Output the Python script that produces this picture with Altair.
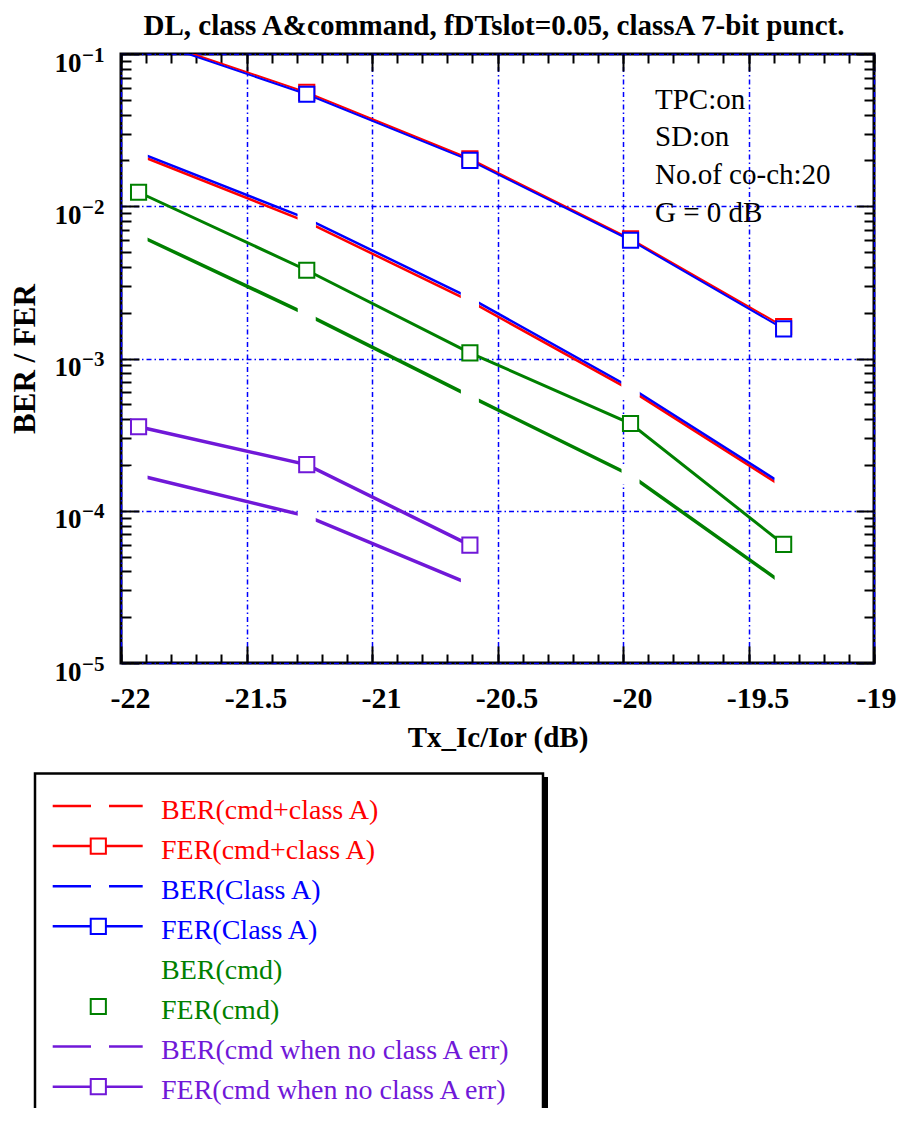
import altair as alt
import pandas as pd

FONT = "Liberation Serif"
W, H = 753, 609

# ---------------- data ----------------
title_text = ["DL, class A&command, fDTslot=0.05, classA 7-bit punct."]
notes = ["TPC:on", "SD:on", "No.of co-ch:20", "G = 0 dB"]

x_db = [-21.93, -21.26, -20.61, -19.97, -19.36]
x_db_noA = [-21.93, -21.26, -20.61]

ber_cmd_classA = [0.0217, 0.0079, 0.00238, 0.00062, 0.000142]
fer_cmd_classA = [0.132, 0.0560, 0.0205, 0.0061, 0.00162]
ber_classA = [0.0226, 0.0083, 0.00250, 0.000645, 0.000148]
fer_classA = [0.129, 0.0544, 0.0200, 0.00598, 0.001565]
ber_cmd = [0.00645, 0.00195, 0.000566, 0.000171, 0.000033]
fer_cmd = [0.01236, 0.0038, 0.00109, 0.000374, 0.0000601]
ber_cmd_noA = [0.000171, 0.0000922, 0.000033]
fer_cmd_noA = [0.000356, 0.000201, 0.0000594]

series_names = [
    "BER(cmd+class A)", "FER(cmd+class A)",
    "BER(Class A)", "FER(Class A)",
    "BER(cmd)", "FER(cmd)",
    "BER(cmd when no class A err)", "FER(cmd when no class A err)",
]
series_colors = ["#ff0000", "#ff0000", "#0000ff", "#0000ff",
                 "#008000", "#008000", "#7018d8", "#7018d8"]
series_widths = [2.5, 2, 2.5, 2, 3.5, 3, 3.5, 3.5]
legend_has_line = [True, True, True, True, False, False, True, True]

x_major = [-22, -21.5, -21, -20.5, -20, -19.5, -19]
x_minor = [round(-22 + 0.1 * i, 1) for i in range(31)]
y_major = [1e-5, 1e-4, 1e-3, 1e-2, 1e-1]
y_minor = [k * 10.0 ** e for e in range(-5, -1) for k in range(2, 10)]

series_x = [x_db, x_db, x_db, x_db, x_db, x_db, x_db_noA, x_db_noA]
series_y = [ber_cmd_classA, fer_cmd_classA, ber_classA, fer_classA,
            ber_cmd, fer_cmd, ber_cmd_noA, fer_cmd_noA]

rows = []
for name, xs_, ys_ in zip(series_names, series_x, series_y):
    for i, (xv, yv) in enumerate(zip(xs_, ys_)):
        rows.append({"series": name, "kind": name[:3], "x": xv, "value": yv, "idx": i})
df = pd.DataFrame(rows)

leg = pd.DataFrame({
    "series": series_names,
    "row": list(range(len(series_names))),
    "kind": [n[:3] for n in series_names],
    "has_line": legend_has_line,
})

# ---------------- scales / axes ----------------
xs = alt.Scale(domain=[-22, -19], nice=False, zero=False)
ys = alt.Scale(type="log", domain=[1e-5, 1e-1], nice=False)
cs = alt.Scale(domain=series_names, range=series_colors)
GRID = dict(grid=True, gridColor="#0000ff", gridDash=[5, 3, 1.5, 3], gridWidth=1.5, gridOpacity=1)


def tick_axis(orient, offset, values, size):
    return alt.Axis(orient=orient, offset=offset, values=values, labels=False,
                    domain=False, grid=False, ticks=True, tickSize=size,
                    tickColor="black", tickWidth=2, title=None)


x_main = alt.Axis(orient="bottom", values=x_major, labelExpr="'' + datum.value",
                  labelFont=FONT, labelFontWeight="bold", labelFontSize=30,
                  labelColor="black", labelPadding=20,
                  labelOffset={"condition": {"test": "datum.value === -19", "value": 2},
                               "value": 9},
                  labelFlush=False, labelOverlap=False, ticks=False, domain=False,
                  title="Tx_Ic/Ior (dB)", titleFont=FONT, titleFontSize=29,
                  titleFontWeight="bold", titleColor="black", titlePadding=10, **GRID)
y_main = alt.Axis(orient="left", values=y_major, labelExpr="'10'",
                  labelFont=FONT, labelFontWeight="bold", labelFontSize=27,
                  labelColor="black", labelPadding=40, labelOffset=9,
                  labelBaseline="middle", labelOverlap=False, labelFlush=False,
                  ticks=False, domain=False,
                  title="BER / FER", titleFont=FONT, titleFontSize=31,
                  titleFontWeight="bold", titleColor="black", titlePadding=13, **GRID)
y_sup = alt.Axis(orient="left", values=y_major,
                 labelExpr="'\u2212' + (-round(log(datum.value) / LN10))",
                 labelFont=FONT, labelFontWeight="bold", labelFontSize=21,
                 labelColor="black", labelPadding=17, labelOffset=1,
                 labelBaseline="middle", labelOverlap=False, labelFlush=False,
                 ticks=False, domain=False, grid=False, title=None)

axes_cycle = [
    (x_main, y_main),
    (tick_axis("top", -H, x_major, 17), tick_axis("right", -W, y_major, 18)),
    (tick_axis("top", -H, x_minor, 9), tick_axis("right", -W, y_minor, 10)),
    (tick_axis("bottom", -H, x_major, 17), tick_axis("left", -W, y_major, 18)),
    (tick_axis("bottom", -H, x_minor, 9), tick_axis("left", -W, y_minor, 10)),
    (None, y_sup),
]

base = alt.Chart(df)
layers = []
axis_i = 0


def next_axes():
    global axis_i
    if axis_i < len(axes_cycle):
        a = axes_cycle[axis_i]
    else:
        a = (None, None)
    axis_i += 1
    return a


def enc_xy(ax):
    return dict(
        x=alt.X("x:Q", scale=xs, axis=ax[0]),
        y=alt.Y("value:Q", scale=ys, axis=ax[1]),
    )


# BER lines
for name, w in zip(series_names, series_widths):
    if not name.startswith("BER"):
        continue
    ax = next_axes()
    layers.append(
        base.transform_filter(alt.datum.series == name)
        .mark_line(clip=True, strokeWidth=w)
        .encode(color=alt.Color("series:N", scale=cs, legend=None),
                order="idx:Q", **enc_xy(ax))
    )

# white gaps on BER lines at the data points
ax = next_axes()
layers.append(
    base.transform_filter(alt.datum.kind == "BER")
    .mark_square(size=324, color="white", opacity=1, clip=True)
    .encode(**enc_xy(ax))
)

# FER lines
for name, w in zip(series_names, series_widths):
    if not name.startswith("FER"):
        continue
    ax = next_axes()
    layers.append(
        base.transform_filter(alt.datum.series == name)
        .mark_line(clip=True, strokeWidth=w)
        .encode(color=alt.Color("series:N", scale=cs, legend=None),
                order="idx:Q", **enc_xy(ax))
    )

# FER square markers
layers.append(
    base.transform_filter(alt.datum.kind == "FER")
    .mark_point(shape="square", filled=True, fill="white", size=230,
                strokeWidth=2, opacity=1, clip=True)
    .encode(stroke=alt.Stroke("series:N", scale=cs, legend=None),
            **enc_xy((None, None)))
)

# annotations
notes_df = pd.DataFrame({"note": notes, "i": list(range(len(notes)))})
layers.append(
    alt.Chart(notes_df).transform_calculate(ay="54.6 + 37.8 * datum.i")
    .mark_text(align="left", baseline="alphabetic", font=FONT, fontSize=29, color="black")
    .encode(x=alt.value(534), y=alt.Y("ay:Q", scale=None, axis=None), text="note:N")
)

# title
layers.append(
    alt.Chart(pd.DataFrame({"t": title_text}))
    .mark_text(align="center", baseline="alphabetic", font=FONT, fontSize=29,
               fontWeight="bold", color="black")
    .encode(x=alt.value(373), y=alt.value(-19), text="t:N")
)

# legend box
box_df = pd.DataFrame({"b": [0]})
layers.append(
    alt.Chart(box_df).mark_rule(color="black", strokeWidth=4)
    .encode(x=alt.value(425), y=alt.value(723), y2=alt.value(1100))
)
layers.append(
    alt.Chart(box_df).mark_rect(fill="white", stroke="black", strokeWidth=2.5)
    .encode(x=alt.value(-86), x2=alt.value(422), y=alt.value(719.5), y2=alt.value(1100))
)

leg_base = alt.Chart(leg).transform_calculate(ly="752 + 40.1 * datum.row",
                                              ty="764.6 + 40.1 * datum.row")
leg_y = alt.Y("ly:Q", scale=None, axis=None)
layers.append(
    leg_base.transform_filter("datum.has_line")
    .mark_rule(strokeWidth=2.5)
    .encode(x=alt.value(-68.3), x2=alt.value(21.7), y=leg_y,
            color=alt.Color("series:N", scale=cs, legend=None))
)
layers.append(
    leg_base.transform_filter("datum.has_line && datum.kind == 'BER'")
    .mark_square(size=324, color="white", opacity=1)
    .encode(x=alt.value(-21), y=leg_y)
)
layers.append(
    leg_base.transform_filter("datum.kind == 'FER'")
    .mark_point(shape="square", filled=True, fill="white", size=230, strokeWidth=2, opacity=1)
    .encode(x=alt.value(-22.7), y=leg_y,
            stroke=alt.Stroke("series:N", scale=cs, legend=None))
)
layers.append(
    leg_base.mark_text(align="left", baseline="alphabetic", font=FONT, fontSize=28)
    .encode(x=alt.value(40), y=alt.Y("ty:Q", scale=None, axis=None), text="series:N",
            color=alt.Color("series:N", scale=cs, legend=None))
)

chart = (
    alt.layer(*layers)
    .resolve_scale(x="shared", y="shared", color="shared", stroke="shared")
    .resolve_axis(x="independent", y="independent")
    .properties(width=W, height=H,
                padding={"left": 113, "top": 46, "right": 23, "bottom": 445},
                autosize=alt.AutoSizeParams(type="none"))
    .configure_view(stroke="black", strokeWidth=3)
)

chart.save("out.html", embed_options={"renderer": "svg", "actions": False})
